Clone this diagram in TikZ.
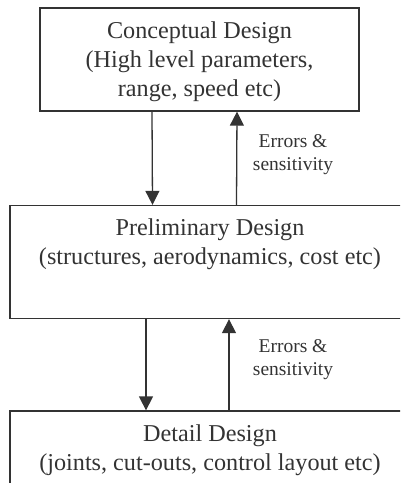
\documentclass[tikz,border=0pt]{standalone}
\usepackage{fontspec}
\setmainfont{Liberation Serif}
\usetikzlibrary{arrows.meta}
\definecolor{ink}{HTML}{333333}
\begin{document}
\begin{tikzpicture}[x=1pt,y=-1pt,
  box/.style={draw=ink,line width=1.3pt,rectangle,inner sep=0pt},
  maintext/.style={text=ink,align=center,font=\fontsize{24.2}{29}\selectfont,inner sep=0pt},
  note/.style={text=ink,align=center,font=\fontsize{19.5}{23}\selectfont,inner sep=0pt},
  arr/.style={draw=ink,line width=1.3pt,-{Triangle[length=14pt,width=14pt]}}]
\useasboundingbox (0,0) rectangle (400,483);
\clip (0,0) rectangle (400,483);
\node[box,minimum width=319pt,minimum height=103pt] (cd) at (199.5,59.5) {};
\node[box,minimum width=420pt,minimum height=113pt] (pd) at (220,262) {};
\node[box,minimum width=420pt,minimum height=80pt] (dd) at (220,451) {};
\node[maintext] (cdt) at (199.5,62) {Conceptual Design\\(High level parameters,\\range, speed etc)};
\node[maintext] (pdt) at (210,244) {Preliminary Design\\(structures, aerodynamics, cost etc)};
\node[maintext] (ddt) at (210,450) {Detail Design\\(joints, cut-outs, control layout etc)};
\draw[arr] ([xshift=-47.5pt]cd.south) -- ([xshift=-67.5pt]pd.north);
\draw[arr] ([xshift=16.5pt]pd.north) -- ([xshift=37.5pt]cd.south);
\draw[arr] ([xshift=-74pt]pd.south) -- ([xshift=-74pt]dd.north);
\draw[arr] ([xshift=9pt]dd.north) -- ([xshift=9pt]pd.south);
\node[note] (e1) at (293,155) {Errors \&\\sensitivity};
\node[note] (e2) at (293,360) {Errors \&\\sensitivity};
\end{tikzpicture}
\end{document}
